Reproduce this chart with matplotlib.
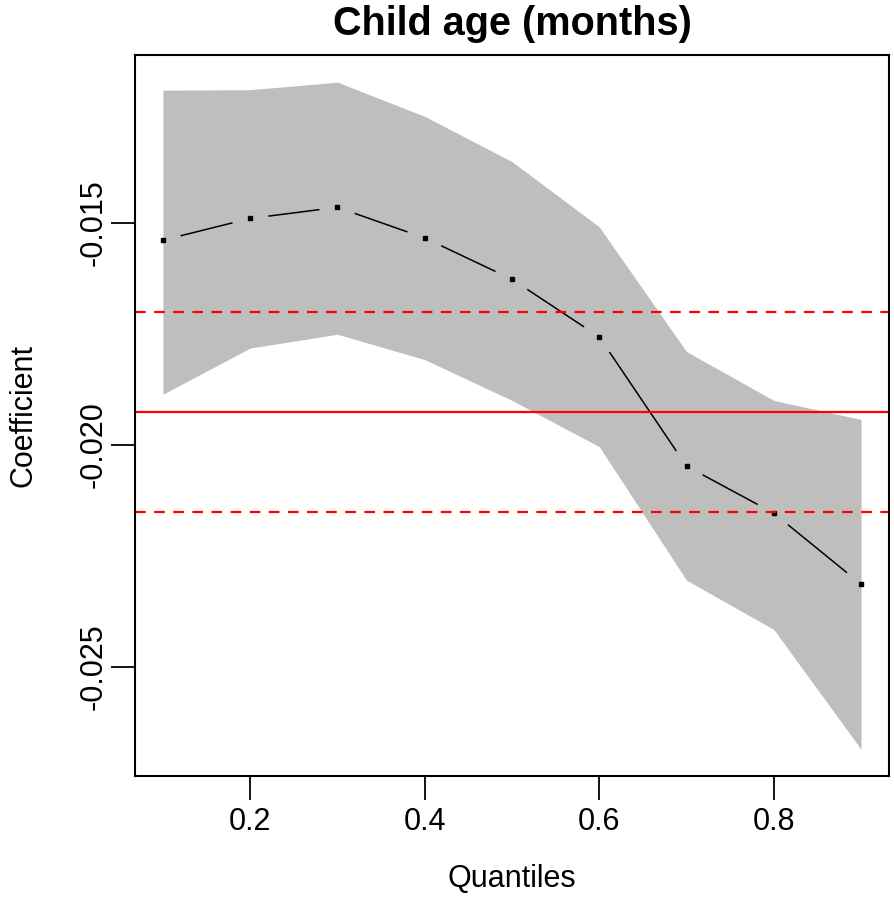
import numpy as np
from matplotlib import pyplot as plt
from matplotlib.ticker import FormatStrFormatter

plt.rcParams['font.family'] = ['Liberation Sans', 'DejaVu Sans']

# quantile regression estimates
quantiles = [0.1, 0.2, 0.3, 0.4, 0.5, 0.6, 0.7, 0.8, 0.9]
coef = [-0.01539, -0.01490, -0.01465, -0.01534, -0.01627,
        -0.01757, -0.02048, -0.02154, -0.02314]
upper = [-0.01201, -0.01200, -0.01183, -0.01260, -0.01362,
         -0.01509, -0.01790, -0.01900, -0.01943]
lower = [-0.01886, -0.01782, -0.01751, -0.01808, -0.01900,
         -0.02004, -0.02305, -0.02416, -0.02686]

# OLS estimate and its confidence interval
ols_coef = -0.01925
ols_lo = -0.02152
ols_hi = -0.01701

TITLE = 'Child age (months)'
X_TICKS = [0.2, 0.4, 0.6, 0.8]
Y_TICKS = [-0.025, -0.020, -0.015]

fig = plt.figure(figsize=(8.94, 8.99), dpi=100)
ax = fig.add_axes([0.151, 0.1368, 0.8434, 0.8015])

# R style 4% padding
xmin, xmax = min(quantiles), max(quantiles)
ymin, ymax = min(lower), max(upper)
xpad = 0.04 * (xmax - xmin)
ypad = 0.04 * (ymax - ymin)
ax.set_xlim(xmin - xpad, xmax + xpad)
ax.set_ylim(ymin - ypad, ymax + ypad)

ax.fill_between(quantiles, lower, upper, color='#bebebe', linewidth=0)

# type = "b": points joined by segments that stop short of the points
gap = 19
pts = ax.transData.transform(np.column_stack([quantiles, coef]))
inv = ax.transData.inverted()
for p0, p1 in zip(pts[:-1], pts[1:]):
    d = p1 - p0
    length = np.hypot(d[0], d[1])
    u = d / length
    seg = inv.transform(np.array([p0 + u * gap, p1 - u * gap]))
    ax.plot(seg[:, 0], seg[:, 1], color='black', linewidth=1.1)
ax.plot(quantiles, coef, linestyle='none', marker='s', markersize=2.8,
        color='black')

ax.axhline(ols_coef, color='red', linewidth=1.6)
ax.axhline(ols_lo, color='red', linewidth=1.6, linestyle=(0, (4.8, 3.8)))
ax.axhline(ols_hi, color='red', linewidth=1.6, linestyle=(0, (4.8, 3.8)))

ax.set_xticks(X_TICKS)
ax.set_yticks(Y_TICKS)
ax.xaxis.set_major_formatter(FormatStrFormatter('%.1f'))
ax.yaxis.set_major_formatter(FormatStrFormatter('%.3f'))
ax.tick_params(axis='both', length=17, width=1.3, labelsize=22, colors='black')
ax.tick_params(axis='x', pad=5)
ax.tick_params(axis='y', pad=2)
for lab in ax.get_yticklabels():
    lab.set_rotation(90)
    lab.set_verticalalignment('center')

for spine in ax.spines.values():
    spine.set_linewidth(1.5)

ax.set_title(TITLE, fontsize=28.5, fontweight='bold', pad=15)
ax.set_xlabel('Quantiles', fontsize=22, labelpad=20)
ax.set_ylabel('Coefficient', fontsize=22, labelpad=29)

plt.savefig('out.png', dpi=100)
